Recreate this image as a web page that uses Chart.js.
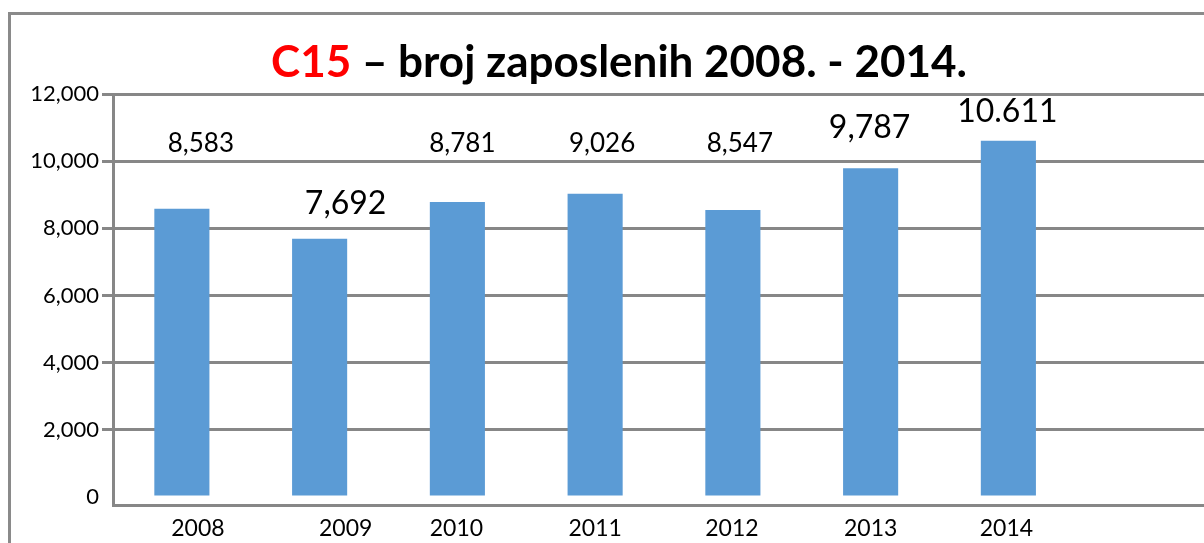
<!DOCTYPE html>
<html lang="hr">
<head>
<meta charset="utf-8">
<title>C15 – broj zaposlenih 2008. - 2014.</title>
<script src="https://cdn.jsdelivr.net/npm/chart.js@4.4.1/dist/chart.umd.min.js"></script>
<style>
  html, body { margin: 0; padding: 0; background: #fff; overflow: hidden; }
  body { width: 1204px; height: 543px; position: relative; }
  .okvir {
    position: absolute; left: 8px; top: 12px;
    width: 1300px; height: 700px;
    border: 3px solid #8a8a8a;
  }
  .naslov {
    position: absolute; left: 0; top: 30px; width: 1238px;
    text-align: center; font-family: Lato, sans-serif; font-weight: 700;
    font-size: 44px; line-height: 60px; color: #000; white-space: nowrap;
  }
  .naslov .kod { color: #ff0000; }
  #graf { position: absolute; left: 0; top: 0; }
</style>
</head>
<body>
<div class="okvir"></div>
<canvas id="graf" width="1215" height="543"></canvas>
<div class="naslov"><span class="kod">C15</span> – broj zaposlenih 2008. - 2014.</div>
<script>
// ── Podaci ────────────────────────────────────────────────────
const GODINE = ["2008", "2009", "2010", "2011", "2012", "2013", "2014"];
const ZAPOSLENI = [8583, 7692, 8781, 9026, 8547, 9787, 10611];
const OZNAKE = ["8,583", "7,692", "8,781", "9,026", "8,547", "9,787", "10.611"];
const Y_TICKS = [0, 2000, 4000, 6000, 8000, 10000, 12000];

// Pomaci oznaka (dx od sredine stupca, dy iznad vrha stupca, veličina)
const OZNAKA_STIL = [
  { dx: 19, dy: 65, size: 26 },
  { dx: 26, dy: 35, size: 32 },
  { dx: 5, dy: 58, size: 26 },
  { dx: 7, dy: 50, size: 26 },
  { dx: 7, dy: 66, size: 26 },
  { dx: -1, dy: 41, size: 32 },
  { dx: -1, dy: 29, size: 32 },
];
// Pomaci godina ispod osi
const GODINA_DX = [16, 26, -1, 0, -1, 0, -2];

const SIVA = "#878787";
const PLAVA = "#5b9bd5";
const FONT = "Lato, sans-serif";

// nulta linija se ne crta, ondje je os x
const bojaMreze = (c) => (c.tick && c.tick.value === 0 ? "rgba(0,0,0,0)" : SIVA);

// ── Plugin: oznake vrijednosti i godine ───────────────────────
const oznakePlugin = {
  id: "oznake",
  afterDatasetsDraw(chart) {
    const ctx = chart.ctx;
    const meta = chart.getDatasetMeta(0);
    const yScale = chart.scales.y;
    ctx.save();
    ctx.fillStyle = "#000";
    ctx.textAlign = "center";
    ctx.textBaseline = "middle";
    meta.data.forEach((bar, i) => {
      if (ZAPOSLENI[i] == null) return;
      const s = OZNAKA_STIL[i];
      const top = yScale.getPixelForValue(ZAPOSLENI[i]);
      ctx.font = `${s.size}px ${FONT}`;
      ctx.fillText(OZNAKE[i], bar.x + s.dx, top - s.dy);

      ctx.font = `23px ${FONT}`;
      ctx.fillText(GODINE[i], bar.x + GODINA_DX[i], chart.chartArea.bottom + 24);
    });
    ctx.restore();
  },
};

// ── Graf ──────────────────────────────────────────────────────
const ctx = document.getElementById("graf").getContext("2d");
new Chart(ctx, {
  type: "bar",
  data: {
    labels: [...GODINE, ""],
    datasets: [
      {
        label: "Broj zaposlenih",
        data: [...ZAPOSLENI, null],
        backgroundColor: PLAVA,
        borderWidth: 0,
        barPercentage: 0.4,
        categoryPercentage: 1,
      },
    ],
  },
  options: {
    responsive: false,
    animation: false,
    layout: { padding: { top: 94, left: 0, right: 0, bottom: 0 } },
    plugins: {
      legend: { display: false },
      tooltip: { enabled: false },
      title: { display: false },
    },
    scales: {
      x: {
        grid: { display: false },
        border: { display: true, color: SIVA, width: 3 },
        ticks: { display: false },
        afterFit: (scale) => { scale.height = 38; },
      },
      y: {
        // os x je nacrtana malo ispod nule, kao u izvorniku
        min: -240,
        max: 12000,
        afterBuildTicks: (scale) => {
          scale.ticks = Y_TICKS.map((v) => ({ value: v }));
        },
        grid: {
          color: bojaMreze,
          tickColor: bojaMreze,
          lineWidth: 3,
          drawTicks: true,
          tickLength: 11,
        },
        border: { display: true, color: SIVA, width: 3 },
        ticks: {
          color: "#000",
          font: { family: FONT, size: 22 },
          padding: 3,
          callback: (v) => v.toLocaleString("en-US"),
        },
        afterFit: (scale) => { scale.width = 113; },
      },
    },
  },
  plugins: [oznakePlugin],
});
</script>
</body>
</html>
